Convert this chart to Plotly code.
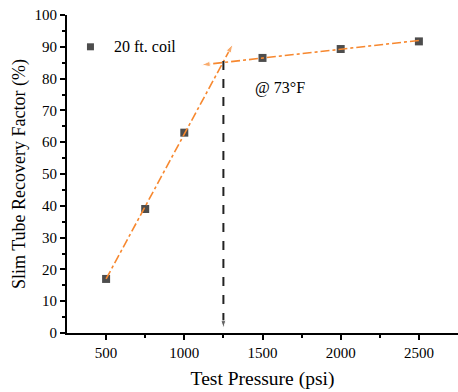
import plotly.graph_objects as go

pressure = [500, 750, 1000, 1500, 2000, 2500]
recovery = [17, 39, 63, 86.5, 89.3, 91.7]

fit1_x = [500, 1310]
fit1_y = [17, 90.8]
fit2_x = [2500, 1110]
fit2_y = [92, 84.3]
mmp_x = [1250, 1250]
mmp_y = [85.5, 1.5]

orange = "#F7882F"
font = "'Liberation Serif', 'Times New Roman', Times, serif"

fig = go.Figure()
fig.add_trace(go.Scatter(x=pressure, y=recovery, mode="markers",
                         marker=dict(symbol="square", size=8, color="#4d4d4d"),
                         showlegend=False))
for xs, ys in [(fit1_x, fit1_y), (fit2_x, fit2_y)]:
    fig.add_trace(go.Scatter(x=xs, y=ys, mode="lines+markers",
                             line=dict(color=orange, width=1.6, dash="dashdot"),
                             marker=dict(symbol=["circle", "arrow"], size=[0, 9],
                                         angleref="previous", color=orange),
                             showlegend=False))
fig.add_trace(go.Scatter(x=mmp_x, y=mmp_y, mode="lines+markers",
                         line=dict(color="#222222", width=2, dash="dash"),
                         marker=dict(symbol=["circle", "arrow"], size=[0, 8],
                                     angleref="previous", color="#222222"),
                         showlegend=False))

# legend entry
fig.add_trace(go.Scatter(x=[400], y=[90], mode="markers",
                         marker=dict(symbol="square", size=7, color="#4d4d4d"),
                         showlegend=False))
fig.add_annotation(x=540, y=90, text="20 ft. coil", showarrow=False, xanchor="left",
                   font=dict(family=font, size=16, color="black"))
fig.add_annotation(x=1610, y=77, text="@ 73°F", showarrow=False,
                   font=dict(family=font, size=16, color="black"))

fig.update_layout(
    width=458, height=392, margin=dict(l=67, r=0, t=15, b=59),
    plot_bgcolor="white", paper_bgcolor="white",
    font=dict(family=font, size=16, color="black"),
)
fig.update_xaxes(range=[250, 2750], tickvals=[500, 1000, 1500, 2000, 2500],
                 showline=True, linecolor="black", linewidth=2, mirror=False,
                 ticks="outside", ticklen=5, tickwidth=2, tickcolor="black",
                 showgrid=False, zeroline=False,
                 tickfont=dict(family=font, size=15),
                 minor=dict(tickvals=[750, 1250, 1750, 2250], ticks="outside",
                            ticklen=3, tickwidth=1.5, tickcolor="black"),
                 title=dict(text="Test Pressure (psi)", font=dict(family=font, size=19.5), standoff=11))
fig.update_yaxes(range=[0, 100], dtick=10,
                 showline=True, linecolor="black", linewidth=2,
                 ticks="outside", ticklen=5, tickwidth=2, tickcolor="black",
                 showgrid=False, zeroline=False,
                 tickfont=dict(family=font, size=15),
                 minor=dict(dtick=5, ticks="outside", ticklen=3, tickwidth=1.5,
                            tickcolor="black"),
                 title=dict(text="Slim Tube Recovery Factor (%)", font=dict(family=font, size=18), standoff=4))

fig.write_html("out.html")
